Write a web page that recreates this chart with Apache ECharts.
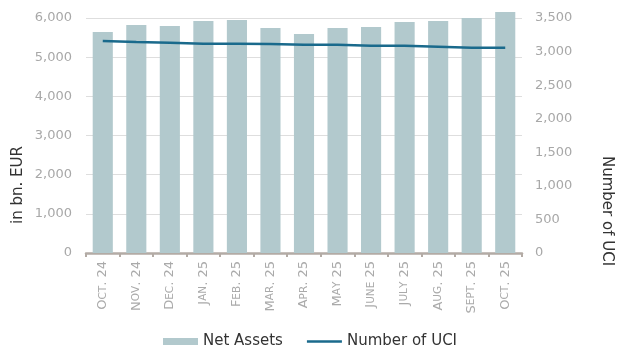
<!DOCTYPE html>
<html><head><meta charset="utf-8">
<script src="https://cdn.jsdelivr.net/npm/echarts@6/dist/echarts.min.js"></script>
<style>html,body{margin:0;padding:0;background:#fff}#c{width:622px;height:360px}</style>
</head><body><div id="c"></div>
<script>
const categories = ["Oct. 24","Nov. 24","Dec. 24","Jan. 25","Feb. 25","Mar. 25","Apr. 25","May 25","June 25","July 25","Aug. 25","Sept. 25","Oct. 25"];
const netAssets = [5643,5821,5796,5923,5949,5745,5591,5745,5770,5898,5923,6000,6153];
const numberOfUCI = [3157,3142,3132,3117,3117,3113,3103,3103,3088,3088,3073,3058,3058];
const leftTicks = {min:0, max:6000, interval:1000};
const rightTicks = {min:0, max:3500, interval:500};
const leftTitle = 'in bn. EUR';
const rightTitle = 'Number of UCI';

function smallCaps(s){
  const up = s.toUpperCase();
  let out = '';
  for (let i=0;i<s.length;i++){
    const ch = s[i];
    if (ch >= 'a' && ch <= 'z') out += '{s|' + up[i] + '}';
    else out += '{b|' + ch + '}';
  }
  return out;
}
const fam = 'DejaVu Sans';
const chart = echarts.init(document.getElementById('c'), null, {renderer:'canvas'});
chart.setOption({
  animation:false,
  textStyle:{fontFamily:fam},
  grid:{left:86,right:100,top:18,bottom:107},
  graphic:[
    {type:'text', x:18, y:185, rotation:Math.PI/2,
     style:{text:leftTitle, fill:'#333', font:'15px "DejaVu Sans"', align:'center', verticalAlign:'middle'}},
    {type:'text', x:607, y:211, rotation:-Math.PI/2,
     style:{text:rightTitle, fill:'#333', font:'15px "DejaVu Sans"', align:'center', verticalAlign:'middle'}}
  ],
  legend:{
    bottom:6, left:158, itemGap:24, itemWidth:35, itemHeight:7,
    textStyle:{fontFamily:fam,fontSize:15,color:'#333'},
    data:[{name:'Net Assets',icon:'rect'},{name:'Number of UCI',icon:'path://M0,0 L35,0 L35,2.5 L0,2.5 Z'}]
  },
  xAxis:{
    type:'category', data:categories,
    axisLine:{lineStyle:{color:'#b3aba5',width:2.5}},
    axisTick:{show:true,length:4,lineStyle:{color:'#b3aba5',width:2},alignWithLabel:false},
    axisLabel:{
      rotate:90, margin:8, color:'#aaa',
      formatter: v => smallCaps(v),
      rich:{b:{fontSize:13,color:'#aaa',fontFamily:fam},s:{fontSize:10.5,color:'#aaa',fontFamily:fam}}
    }
  },
  yAxis:[{
    type:'value', min:leftTicks.min, max:leftTicks.max, interval:leftTicks.interval,
    axisLabel:{color:'#a8a8a8',fontSize:13,margin:14,formatter:v=>v.toLocaleString('en-US')},
    axisLine:{show:false}, axisTick:{show:false},
    splitLine:{lineStyle:{color:'#dedede',width:1}}
  },{
    type:'value', min:rightTicks.min, max:rightTicks.max, interval:rightTicks.interval,
    axisLabel:{color:'#a8a8a8',fontSize:13,margin:13,formatter:v=>v.toLocaleString('en-US')},
    axisLine:{show:false}, axisTick:{show:false},
    splitLine:{show:false}
  }],
  series:[{
    name:'Net Assets', type:'bar', data:netAssets, barWidth:'60%', clip:false,
    itemStyle:{color:'#b2c9cd'}
  },{
    name:'Number of UCI', type:'line', yAxisIndex:1, data:numberOfUCI,
    symbol:'none', smooth:false,
    lineStyle:{color:'#1a6a8c',width:2.5}, itemStyle:{color:'#1a6a8c'}
  }]
});
</script></body></html>
